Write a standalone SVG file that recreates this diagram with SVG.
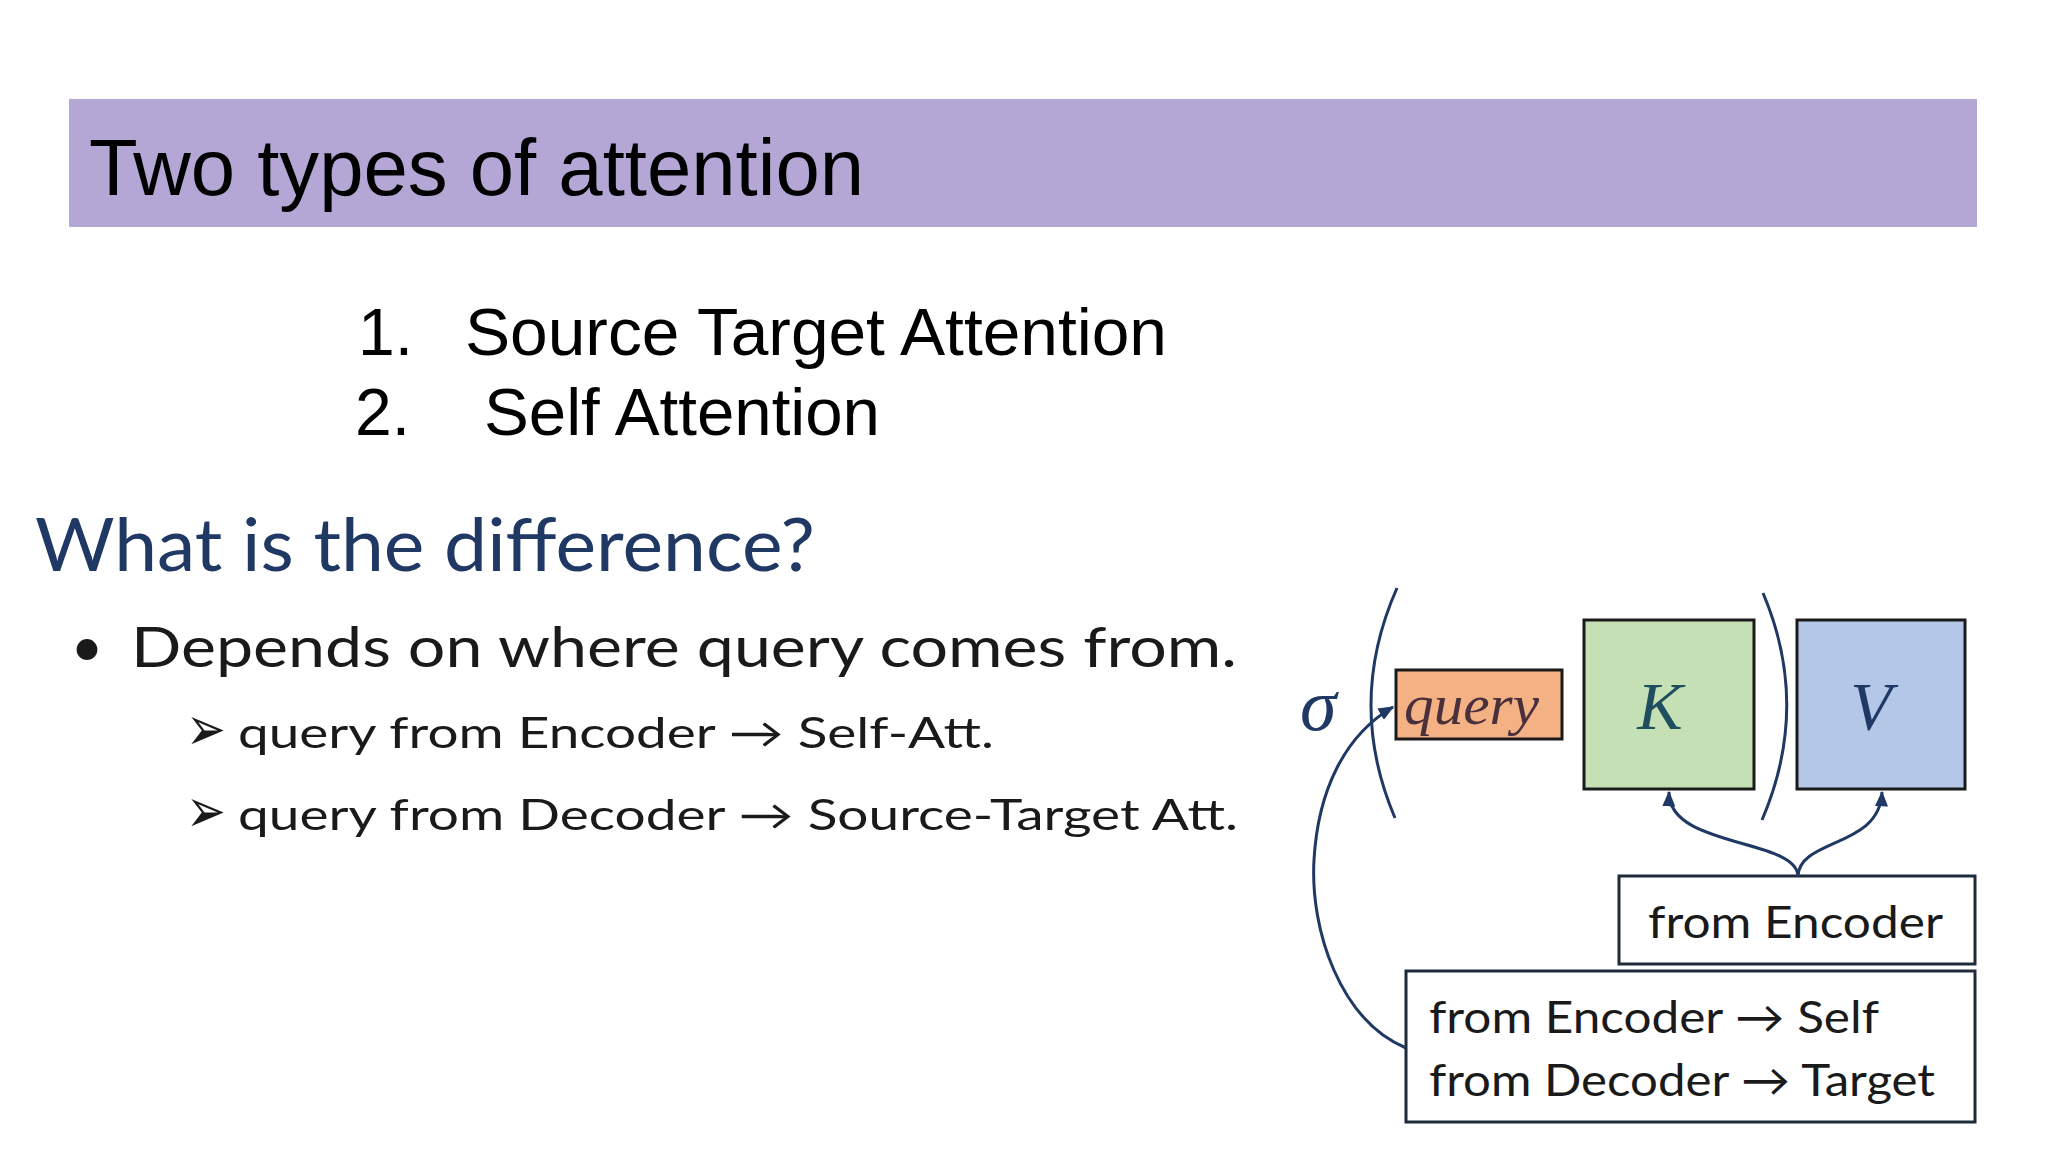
<svg xmlns="http://www.w3.org/2000/svg" width="2048" height="1152" viewBox="0 0 2048 1152">
  <style>
    .title { font-family: "Liberation Sans", Arial, sans-serif; fill: #000; }
    .cal { font-family: Lato, "DejaVu Sans", sans-serif; fill: #1a1a1a; }
    .sym { font-family: "DejaVu Sans", sans-serif; fill: #1a1a1a; }
    .math { font-family: "Liberation Serif", "DejaVu Serif", serif; font-style: italic; }
    .box { stroke: #1a1a1a; stroke-width: 3; }
    .lbox { fill: #ffffff; stroke: #1f2a3a; stroke-width: 3; }
    .conn { fill: none; stroke: #1f3864; stroke-width: 3; }
    .paren { fill: none; stroke: #1f3864; stroke-width: 3; }
  </style>
  <defs>
    <marker id="ah" viewBox="0 0 12 10" refX="11" refY="5" markerWidth="16" markerHeight="13" markerUnits="userSpaceOnUse" orient="auto">
      <path d="M0,0 L12,5 L0,10 z" fill="#1f3864"/>
    </marker>
  </defs>
  <rect width="2048" height="1152" fill="#ffffff"/>

  <g id="header">
    <rect x="69" y="99" width="1908" height="128" fill="#b4a7d6"/>
    <text class="title" x="89" y="195" font-size="80" textLength="775" lengthAdjust="spacingAndGlyphs">Two types of attention</text>
  </g>

  <g id="list">
    <text class="title" x="358" y="355" font-size="66">1.</text>
    <text class="title" x="465" y="355" font-size="66" textLength="702" lengthAdjust="spacingAndGlyphs">Source Target Attention</text>
    <text class="title" x="355" y="435" font-size="66">2.</text>
    <text class="title" x="484" y="435" font-size="66" textLength="396" lengthAdjust="spacingAndGlyphs">Self Attention</text>
  </g>

  <g id="question">
    <text class="cal" x="35" y="571" font-size="74" style="fill:#1f3864" textLength="780" lengthAdjust="spacingAndGlyphs">What is the difference?</text>
    <text class="cal" x="87" y="666" font-size="56" text-anchor="middle">•</text>
    <text class="cal" x="131" y="667" font-size="56" textLength="1106" lengthAdjust="spacingAndGlyphs">Depends on where query comes from.</text>
    <text class="sym" x="186" y="750" font-size="62" textLength="40" lengthAdjust="spacingAndGlyphs">➢</text>
    <text class="cal" x="238" y="748" font-size="42" textLength="756" lengthAdjust="spacingAndGlyphs">query from Encoder → Self-Att.</text>
    <text class="sym" x="186" y="832" font-size="62" textLength="40" lengthAdjust="spacingAndGlyphs">➢</text>
    <text class="cal" x="238" y="830" font-size="42" textLength="1000" lengthAdjust="spacingAndGlyphs">query from Decoder → Source-Target Att.</text>
  </g>

  <g id="sigma">
    <text class="math" x="1300" y="730" font-size="74" fill="#1f3864">σ</text>
  </g>

  <g id="brackets">
    <path class="paren" d="M1397,588 Q1346,703 1395,818"/>
    <path class="paren" d="M1763,593 Q1811,706 1762,820"/>
  </g>

  <g id="query">
    <rect class="box" x="1396" y="670" width="166" height="69" fill="#f4b183"/>
    <text class="math" x="1404" y="724" font-size="58" fill="#4a2f3c" textLength="135" lengthAdjust="spacingAndGlyphs">query</text>
  </g>

  <g id="K">
    <rect class="box" x="1584" y="620" width="170" height="169" fill="#c5e0b4"/>
    <text class="math" x="1660" y="729" font-size="68" fill="#1f4e5f" text-anchor="middle">K</text>
  </g>

  <g id="V">
    <rect class="box" x="1797" y="620" width="168" height="169" fill="#b4c7e7"/>
    <text class="math" x="1871" y="729" font-size="68" fill="#1f3864" text-anchor="middle">V</text>
  </g>

  <g id="fromEncoder">
    <rect class="lbox" x="1619" y="876" width="356" height="88"/>
    <text class="cal" x="1648" y="938" font-size="45" textLength="295" lengthAdjust="spacingAndGlyphs">from Encoder</text>
  </g>

  <g id="source">
    <rect class="lbox" x="1406" y="971" width="569" height="151"/>
    <text class="cal" x="1429" y="1033" font-size="45" textLength="450" lengthAdjust="spacingAndGlyphs">from Encoder → Self</text>
    <text class="cal" x="1429" y="1096" font-size="45" textLength="506" lengthAdjust="spacingAndGlyphs">from Decoder → Target</text>
  </g>

  <g id="connectors">
    <path class="conn" d="M1406,1048 C1340,1020 1310,930 1314,860 C1318,790 1345,735 1393,707" marker-end="url(#ah)"/>
    <path class="conn" d="M1798,876 C1796,838 1668,848 1669,792" marker-end="url(#ah)"/>
    <path class="conn" d="M1798,876 C1800,838 1880,848 1882,792" marker-end="url(#ah)"/>
  </g>
</svg>
